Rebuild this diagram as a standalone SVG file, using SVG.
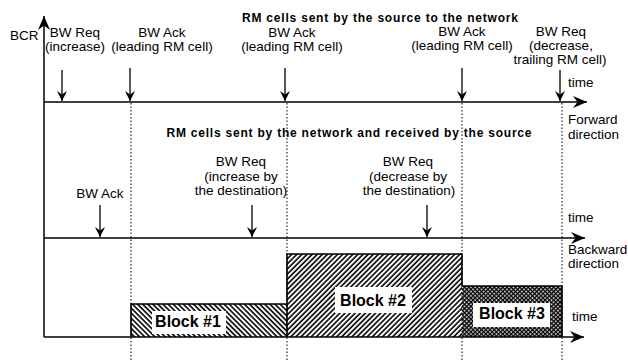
<svg xmlns="http://www.w3.org/2000/svg" width="628" height="360" viewBox="0 0 628 360">
<style>
text{font-family:"Liberation Sans",Arial,sans-serif;font-size:13.5px;fill:#000}
.c{text-anchor:middle}
.h{font-weight:bold;font-size:12px}
.b{font-weight:bold;font-size:16px;text-anchor:middle}
.ax{stroke:#000;stroke-width:1.5;fill:none}
.ar{stroke:#000;stroke-width:1.3;fill:none;marker-end:url(#ah)}
.dot{stroke:#000;stroke-width:1;stroke-dasharray:1.5 2;fill:none}
.box{fill:#fff;stroke:none}
.blk{stroke:#000;stroke-width:1.6}
</style>
<defs>
<marker id="ah" markerUnits="userSpaceOnUse" markerWidth="12" markerHeight="12" refX="10" refY="5" orient="auto">
<path d="M10,5 L0,0 L3.5,5 L0,10 Z" fill="#000"/>
</marker>
<marker id="ahb" markerUnits="userSpaceOnUse" markerWidth="16" markerHeight="14" refX="14" refY="6" orient="auto">
<path d="M14,6 L0,0 L4.5,6 L0,12 Z" fill="#000"/>
</marker>
<pattern id="hb" patternUnits="userSpaceOnUse" width="3.6" height="4" patternTransform="rotate(-45)">
<rect width="3.6" height="4" fill="#fff"/>
<line x1="1" y1="0" x2="1" y2="4" stroke="#000" stroke-width="1.6"/>
</pattern>
<pattern id="hf" patternUnits="userSpaceOnUse" width="3.6" height="4" patternTransform="rotate(45)">
<rect width="3.6" height="4" fill="#fff"/>
<line x1="1" y1="0" x2="1" y2="4" stroke="#000" stroke-width="1.6"/>
</pattern>
<pattern id="hx" patternUnits="userSpaceOnUse" width="3" height="3" patternTransform="rotate(45)">
<rect width="3" height="3" fill="#fff"/>
<line x1="0.7" y1="0" x2="0.7" y2="3" stroke="#000" stroke-width="1.4"/>
<line x1="0" y1="0.7" x2="3" y2="0.7" stroke="#000" stroke-width="1.4"/>
</pattern>
</defs>

<g id="blocks">
<g id="block1">
<rect x="131" y="304" width="156" height="33" fill="url(#hb)"/>
<path class="blk" d="M131,337 V304 H287" fill="none"/>
<rect class="box" x="152" y="311" width="74" height="23"/>
<text class="b" x="188" y="327">Block #1</text>
</g>
<g id="block2">
<rect x="287" y="254" width="175" height="83" fill="url(#hf)"/>
<path class="blk" d="M287,337 V254 H462 V286" fill="none"/>
<rect class="box" x="335" y="287" width="77" height="26"/>
<text class="b" x="373" y="306">Block #2</text>
</g>
<g id="block3">
<rect x="462" y="286" width="100" height="51" fill="url(#hx)"/>
<path class="blk" d="M462,286 H562 V337" fill="none"/>
<rect class="box" x="473" y="303" width="77" height="24"/>
<text class="b" x="512" y="319">Block #3</text>
</g>
</g>

<g id="axes">
<line class="ax" x1="44" y1="337" x2="44" y2="16" marker-end="url(#ahb)"/>
<line class="ax" x1="44" y1="102" x2="587" y2="102" marker-end="url(#ahb)"/>
<line class="ax" x1="44" y1="238" x2="585" y2="238" marker-end="url(#ahb)"/>
<line class="ax" x1="44" y1="337" x2="584" y2="337" marker-end="url(#ahb)"/>
</g>

<g id="gridlines">
<line class="dot" x1="131" y1="103" x2="131" y2="360"/>
<line class="dot" x1="287" y1="103" x2="287" y2="360"/>
<line class="dot" x1="462" y1="103" x2="462" y2="360"/>
<line class="dot" x1="562" y1="103" x2="562" y2="360"/>
</g>

<g id="connectors">
<line class="ar" x1="62" y1="70" x2="62" y2="101"/>
<line class="ar" x1="130" y1="68" x2="130" y2="101"/>
<line class="ar" x1="285" y1="68" x2="285" y2="101"/>
<line class="ar" x1="462" y1="68" x2="462" y2="101"/>
<line class="ar" x1="560" y1="70" x2="560" y2="101"/>
<line class="ar" x1="100" y1="205" x2="100" y2="237"/>
<line class="ar" x1="252" y1="205" x2="252" y2="237"/>
<line class="ar" x1="427" y1="205" x2="427" y2="237"/>
</g>

<g id="lbl-bcr"><text x="10" y="40">BCR</text></g>
<g id="heading-forward"><text class="c h" x="380" y="22" textLength="276" lengthAdjust="spacing">RM cells sent by the source to the network</text></g>
<g id="f-req-inc"><text class="c" x="75" y="37">BW Req</text><text class="c" x="75" y="51">(increase)</text></g>
<g id="f-ack1"><text class="c" x="162" y="37">BW Ack</text><text class="c" x="162" y="51">(leading RM cell)</text></g>
<g id="f-ack2"><text class="c" x="292" y="37">BW Ack</text><text class="c" x="292" y="51">(leading RM cell)</text></g>
<g id="f-ack3"><text class="c" x="462" y="36">BW Ack</text><text class="c" x="462" y="50">(leading RM cell)</text></g>
<g id="f-req-dec"><text class="c" x="561" y="36">BW Req</text><text class="c" x="561" y="50">(decrease,</text><text class="c" x="560" y="64">trailing RM cell)</text></g>
<g id="f-time"><text x="568" y="87">time</text></g>
<g id="f-dir"><text x="568" y="124">Forward</text><text x="568" y="139">direction</text></g>

<g id="heading-backward"><text class="c h" x="349" y="137" textLength="365" lengthAdjust="spacing">RM cells sent by the network and received by the source</text></g>
<g id="b-ack"><text class="c" x="100" y="198">BW Ack</text></g>
<g id="b-req-inc"><text class="c" x="241" y="166">BW Req</text><text class="c" x="241" y="181">(increase by</text><text class="c" x="241" y="195">the destination)</text></g>
<g id="b-req-dec"><text class="c" x="408" y="166">BW Req</text><text class="c" x="408" y="181">(decrease by</text><text class="c" x="409" y="195">the destination)</text></g>
<g id="b-time"><text x="568" y="222">time</text></g>
<g id="b-dir"><text x="568" y="254">Backward</text><text x="568" y="268">direction</text></g>
<g id="bcr-time"><text x="572" y="321">time</text></g>
</svg>
